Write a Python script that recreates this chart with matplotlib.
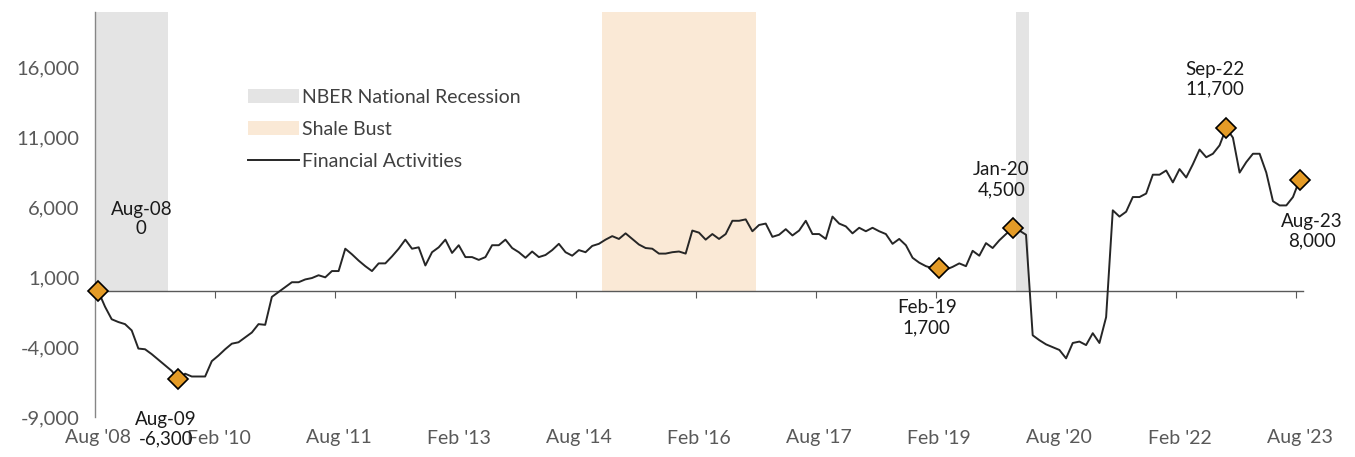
import numpy as np
import matplotlib
matplotlib.use("Agg")
import matplotlib.pyplot as plt
from matplotlib.patches import Patch
from matplotlib.lines import Line2D

plt.rcParams['font.family'] = ['Lato', 'DejaVu Sans']

# monthly change in financial activities jobs since Aug 2008 (Aug '08 .. Aug '23)
financial = np.array([
    0, -1100, -2000, -2200, -2350, -2800, -4100, -4150, -4500, -4900, -5300, -5700,
    -6300, -5900, -6100, -6100, -6100, -5000, -4600, -4150, -3750, -3650, -3300, -2950,
    -2350, -2400, -400, -50, 300, 650, 650, 850, 950, 1150, 1000, 1450,
    1450, 3050, 2650, 2200, 1800, 1450, 2000, 2000, 2500, 3050, 3700, 3050,
    3150, 1850, 2800, 3150, 3700, 2750, 3300, 2450, 2450, 2250, 2450, 3300,
    3300, 3700, 3100, 2800, 2400, 2850, 2450, 2600, 2950, 3400, 2800, 2550,
    2950, 2800, 3250, 3400, 3700, 3950, 3750, 4150, 3750, 3350, 3100, 3050,
    2700, 2700, 2800, 2850, 2700, 4350, 4200, 3700, 4100, 3750, 4100, 5050,
    5050, 5150, 4300, 4750, 4850, 3900, 4050, 4450, 4000, 4350, 5050, 4100,
    4100, 3750, 5350, 4850, 4650, 4150, 4550, 4300, 4550, 4300, 4100, 3400,
    3750, 3300, 2400, 2050, 1800, 1650, 1700, 1550, 1750, 2000, 1800, 2900,
    2550, 3450, 3100, 3650, 4100, 4500, 4350, 4050, -3150, -3500, -3800, -4000,
    -4200, -4800, -3700, -3600, -3850, -3000, -3700, -1850, 5800, 5350, 5700, 6750,
    6750, 7000, 8350, 8350, 8650, 7800, 8750, 8150, 9100, 10150, 9600, 9850,
    10450, 11700, 11000, 8500, 9250, 9850, 9850, 8500, 6450, 6150, 6150, 6750,
    8000,
])

x_labels = ["Aug '08", "Feb '10", "Aug '11", "Feb '13", "Aug '14", "Feb '16",
            "Aug '17", "Feb '19", "Aug '20", "Feb '22", "Aug '23"]
y_ticks = [-9000, -4000, 1000, 6000, 11000, 16000]

# month indexes (0 = Aug 2008) of the shaded periods
nber_spans = [(0, 10), (138, 139)]
shale_spans = [(76, 98)]

# highlighted points
hl_idx = [0, 12, 126, 137, 169, 180]
hl_names = ["Aug-08", "Aug-09", "Feb-19", "Jan-20", "Sep-22", "Aug-23"]
hl_offsets = [(31, 52), (-9, -36), (-9, -36), (-8, 35), (-8, 35), (9, -37)]

gray = '#e4e4e4'
tan = '#fae9d6'
line_col = '#262626'

fig = plt.figure(figsize=(13.55, 4.57), dpi=100)
ax = fig.add_axes([95/1355, 40/457, 1208/1355, 405/457])

x = np.arange(len(financial))
ymin, ymax = -9000, 20000
zero_frac = (0 - ymin) / (ymax - ymin)

for s, e in nber_spans:
    ax.axvspan(s - 0.5, e + 0.5, ymin=zero_frac, ymax=1, color=gray, lw=0, zorder=0)
for s, e in shale_spans:
    ax.axvspan(s - 0.5, e + 0.5, ymin=zero_frac, ymax=1, color=tan, lw=0, zorder=0)

ax.plot(x, financial, color=line_col, lw=1.4, zorder=3)
ax.plot(x[hl_idx], financial[hl_idx], 'D', ms=10, mfc='#e49b26', mec='black',
        mew=1.2, zorder=4, clip_on=False)

for i, name, off in zip(hl_idx, hl_names, hl_offsets):
    ax.annotate(f"{name}\n{financial[i]:,}", (x[i], financial[i]), xytext=off,
                textcoords='offset points', ha='center', va='center',
                fontsize=13.5, color='#1a1a1a', linespacing=1.2, zorder=5)

ax.set_xlim(-0.5, len(financial) - 0.5)
ax.set_ylim(ymin, ymax)

ax.set_yticks(y_ticks)
ax.set_yticklabels([f"{v:,}" for v in y_ticks])
ax.tick_params(axis='y', length=0, labelsize=14.5, colors='#595959', pad=11)

ax.set_xticks(x[::18])
ax.set_xticklabels(x_labels)
ax.tick_params(axis='x', length=0, labelsize=14, colors='#595959', pad=9)

for side in ['top', 'right', 'bottom']:
    ax.spines[side].set_visible(False)
ax.spines['left'].set_color('#868686')
ax.spines['left'].set_linewidth(1.0)

# zero line with tick marks between categories
sec = ax.secondary_xaxis(0, transform=ax.transData)
sec.set_xticks(x[18::18] - 0.5)
sec.tick_params(axis='x', length=5, direction='out', color='#595959', labelbottom=False)
sec.spines['bottom'].set_color('#595959')
sec.spines['bottom'].set_linewidth(1.0)

handles = [Patch(facecolor=gray), Patch(facecolor=tan), Line2D([], [], color=line_col, lw=1.4)]
labels = ["NBER National Recession", "Shale Bust", "Financial Activities"]
leg = ax.legend(handles, labels, loc='upper left', bbox_to_anchor=(0.1267, 0.811),
                frameon=False, fontsize=14, handlelength=2.6, handletextpad=0.2,
                labelspacing=0.78, borderpad=0, borderaxespad=0)
for t in leg.get_texts():
    t.set_color('#404040')

fig.savefig('out.png', dpi=100)
